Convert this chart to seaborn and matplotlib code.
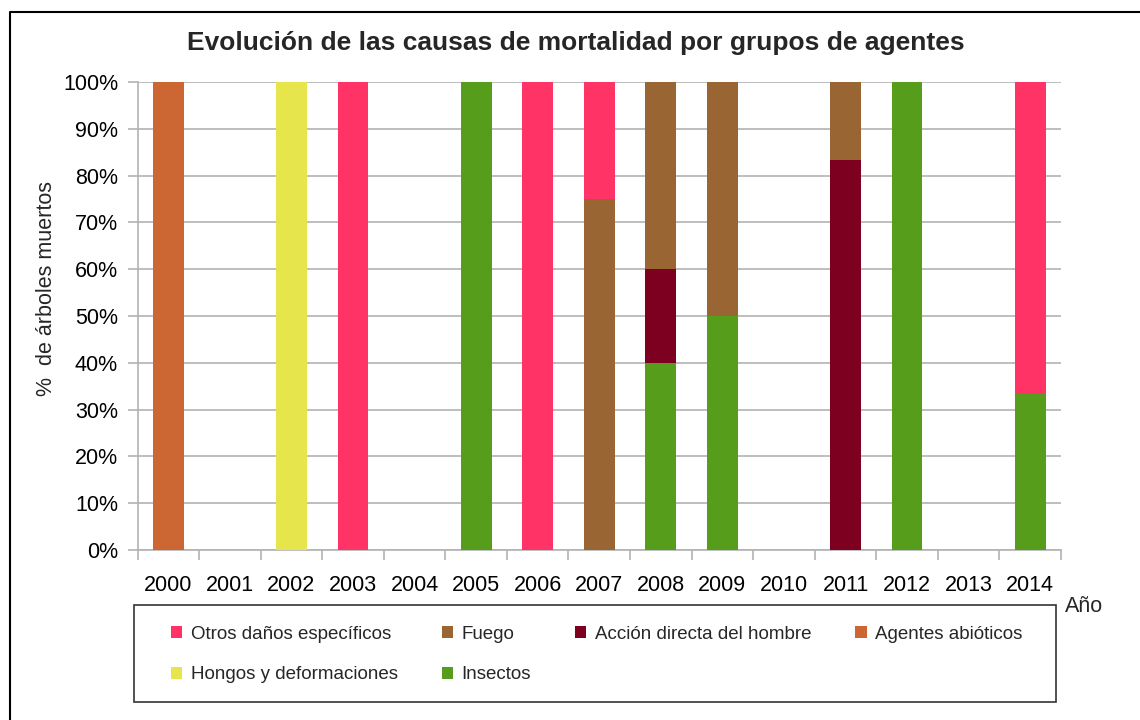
import numpy as np
import pandas as pd
import matplotlib
matplotlib.use("Agg")
import matplotlib.pyplot as plt
import seaborn as sns
from matplotlib.patches import Rectangle, Patch
from matplotlib.lines import Line2D
from matplotlib.ticker import FuncFormatter

years = ["2000", "2001", "2002", "2003", "2004", "2005", "2006", "2007",
         "2008", "2009", "2010", "2011", "2012", "2013", "2014"]

# percentages per group (bottom to top stacking order)
insectos = [0, 0, 0, 0, 0, 100, 0, 0, 40, 50, 0, 0, 100, 0, 33.3]
hongos = [0, 0, 100, 0, 0, 0, 0, 0, 0, 0, 0, 0, 0, 0, 0]
abioticos = [100, 0, 0, 0, 0, 0, 0, 0, 0, 0, 0, 0, 0, 0, 0]
accion = [0, 0, 0, 0, 0, 0, 0, 0, 20, 0, 0, 83.3, 0, 0, 0]
fuego = [0, 0, 0, 0, 0, 0, 0, 75, 40, 50, 0, 16.7, 0, 0, 0]
otros = [0, 0, 0, 100, 0, 0, 100, 25, 0, 0, 0, 0, 0, 0, 66.7]

series_bottom_up = [
    ("Insectos", insectos, "#579D1C"),
    ("Hongos y deformaciones", hongos, "#E6E64C"),
    ("Agentes abióticos", abioticos, "#CC6633"),
    ("Acción directa del hombre", accion, "#7E0021"),
    ("Fuego", fuego, "#996633"),
    ("Otros daños específicos", otros, "#FF3366"),
]
legend_order = ["Otros daños específicos", "Hongos y deformaciones", "Fuego", "Insectos",
                "Acción directa del hombre", "Agentes abióticos"]

sns.set_theme(style="white")
plt.rcParams["font.family"] = ["Liberation Sans", "DejaVu Sans"]

W, H = 1140, 720
fig = plt.figure(figsize=(W / 100, H / 100), dpi=100)
ax = fig.add_axes([137.5 / W, 1 - 550 / H, (1061 - 137.5) / W, (550 - 82) / H])

# cumulative tops, drawn from top layer down so lower layers overlay
df = pd.DataFrame({"year": years})
cum = np.zeros(len(years))
tops = []
for name, vals, color in series_bottom_up:
    cum = cum + np.array(vals, dtype=float)
    tops.append((name, cum.copy(), color))
for name, top, color in reversed(tops):
    df[name] = top
    sns.barplot(data=df, x="year", y=name, color=color, width=0.5,
                saturation=1, ax=ax, zorder=3, linewidth=0)

ax.set_ylim(0, 100)
ax.set_xlim(-0.5, len(years) - 0.5)
ax.set_yticks(np.arange(0, 101, 10))
ax.yaxis.set_major_formatter(FuncFormatter(lambda v, p: f"{int(round(v))}%"))
ax.grid(axis="y", color="#B3B3B3", linewidth=1.2, zorder=0)
ax.set_axisbelow(True)
for side in ["top", "right"]:
    ax.spines[side].set_visible(False)
for side in ["left", "bottom"]:
    ax.spines[side].set_color("#B3B3B3")
    ax.spines[side].set_linewidth(1.2)

ax.tick_params(axis="y", length=7, color="#B3B3B3", width=1.2, labelsize=15.5,
               pad=7, labelcolor="black", left=True)
ax.tick_params(axis="x", which="major", length=0, labelsize=15.5, pad=18, labelcolor="black")
ax.set_xticks(np.arange(-0.5, len(years), 1), minor=True)
ax.tick_params(axis="x", which="minor", length=7, color="#B3B3B3", width=1.2, bottom=True)
ax.set_xlabel("")
ax.set_ylabel("")
fig.text(47 / W, 1 - 289 / H, "%  de árboles muertos", rotation=90,
         ha="center", va="center", fontsize=15.5)

fig.text(576 / W, 1 - 43 / H, "Evolución de las causas de mortalidad por grupos de agentes",
         ha="center", va="center", fontsize=19, fontweight="bold")
fig.text(1065 / W, 1 - 606 / H, "Año", ha="left", va="center", fontsize=15.5)

# legend frame
fig.patches.append(Rectangle((134 / W, 1 - 702 / H), (1056 - 134) / W, (702 - 604.5) / H,
                             transform=fig.transFigure, fill=False, edgecolor="#333333",
                             linewidth=1.2))
colors = {n: c for n, v, c in series_bottom_up}
handles = [Patch(facecolor=colors[n], edgecolor="none", label=n) for n in legend_order]
fig.legend(handles=handles, ncol=4, loc="upper left",
           bbox_to_anchor=(171 / W, 1 - 626 / H), frameon=False, fontsize=13.5,
           handlelength=0.61, handleheight=0.61, handletextpad=0.44,
           columnspacing=2.35, labelspacing=1.25, borderpad=0, borderaxespad=0)

# figure border (left and top edges visible)
fig.lines.append(Line2D([9.5 / W, 9.5 / W, 1.0], [0, 1 - 12 / H, 1 - 12 / H],
                        transform=fig.transFigure, color="black", linewidth=1.5))

fig.savefig("out.png", dpi=100)
